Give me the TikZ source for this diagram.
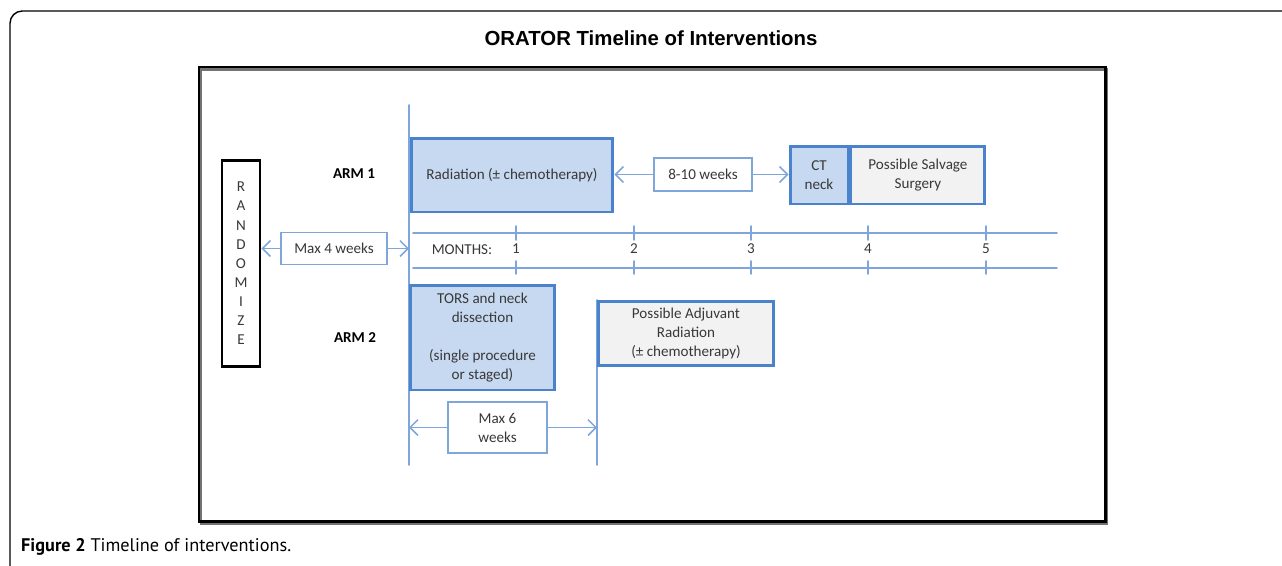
\documentclass[tikz,border=0pt]{standalone}
\usepackage{fontspec}
\setmainfont{Carlito}
\newfontfamily\titlefont{Liberation Sans}
\newfontfamily\capfont{PT Sans}
\usetikzlibrary{arrows.meta}

\definecolor{boxblue}{HTML}{4A82CC}
\definecolor{lineblue}{HTML}{7FA6DA}
\definecolor{fillblue}{HTML}{C6D9F1}
\definecolor{fillgray}{HTML}{F2F2F2}
\definecolor{txtgray}{HTML}{383838}

\tikzset{
  phase/.style={draw=boxblue,line width=1.7pt,fill=fillblue,align=center,
    inner sep=0pt,text=txtgray,font=\fontsize{8.6}{10.8}\selectfont},
  later/.style={phase,fill=fillgray},
  span/.style={draw=lineblue,line width=0.9pt,fill=white,align=center,
    inner sep=0pt,text=txtgray,font=\fontsize{8.6}{10.8}\selectfont},
  tl/.style={draw=lineblue,line width=0.9pt},
  gap/.style={tl,-{Straight Barb[length=4.5pt,width=9pt]}},
  arm/.style={font=\bfseries\fontsize{8.6}{10.8}\selectfont},
  mth/.style={text=txtgray,font=\fontsize{8.6}{10.8}\selectfont}
}

\begin{document}
\begin{tikzpicture}[x=0.02cm,y=-0.02cm,line cap=round]
        \useasboundingbox (0,0) rectangle (1282,565);

        % outer frame and title
        \draw[line width=0.8pt,rounded corners=7pt] (1283,11) -- (10,11) -- (10,566);
        \node[font=\titlefont\bfseries\fontsize{11.6}{14}\selectfont] (title) at (651,38) {ORATOR Timeline of Interventions};

        % black panel
        \draw[line width=1.7pt,black!55] (201,69.5) rectangle (1106.5,523);
        \draw[line width=1.7pt] (199,67) rectangle (1105,521);

        % vertical start lines
        \coordinate (lineA) at (409,105);
        \coordinate (lineB) at (597,300);
        \draw[tl] (lineA) -- (409,465);
        \draw[tl] (lineB) -- (597,465);

        % randomize box
        \node[draw,line width=1.7pt,inner sep=0pt,
              minimum width=0.76cm,minimum height=4.14cm,align=center,text=txtgray,
              font=\fontsize{8.6}{10.9}\selectfont] (rand) at (241,263.5)
              {R\\A\\N\\D\\O\\M\\I\\Z\\E};

        % arm labels
        \node[arm] (arm1) at (354,174) {ARM 1};
        \node[arm] (arm2) at (355,338) {ARM 2};

        % arm 1
        \node[phase,minimum width=4.04cm,minimum height=1.48cm] (rad) at (512,175) {Radiation (\textpm{} chemotherapy)};
        \node[span,minimum width=1.96cm,minimum height=0.66cm] (wk) at (703,174.5) {8-10 weeks};
        \node[phase,minimum width=1.16cm,minimum height=1.16cm] (ct) at (819,175) {CT\\neck};
        \node[later,minimum width=2.68cm,minimum height=1.16cm,anchor=west] (salv) at (ct.east) {Possible Salvage\\Surgery};
        \draw[gap] (wk.west) -- (wk.west -| rad.east);
        \draw[gap] (wk.east) -- (wk.east -| ct.west);

        % month axis
        \draw[tl] (413,233) -- (1057,233);
        \draw[tl] (413,268) -- (1057,268);
        \node[mth] (months) at (462,250) {MONTHS:};
        \foreach \x/\m in {516/1,634/2,751/3,868/4,986/5} {
                \draw[tl] (\x,226) -- (\x,240);
                \draw[tl] (\x,261) -- (\x,274);
                \node[mth] (m\m) at (\x,249) {\m};
        }

        % randomize to start
        \node[span,minimum width=2.12cm,minimum height=0.64cm] (mx4) at (334,248.5) {Max 4 weeks};
        \draw[gap] (mx4.west) -- (mx4.west -| rand.east);
        \draw[gap] (mx4.east) -- (mx4.east -| lineA);

        % arm 2
        \node[phase,minimum width=2.9cm,minimum height=2.1cm] (tors) at (482.5,337.5)
              {TORS and neck\\dissection\\[10.8pt](single procedure\\or staged)};
        \node[later,minimum width=3.5cm,minimum height=1.28cm,anchor=north west] (adj) at (lineB)
              {Possible Adjuvant\\Radiation\\(\textpm{} chemotherapy)};
        \node[span,minimum width=1.98cm,minimum height=1.02cm] (mx6) at (497.5,427.5) {Max 6\\weeks};
        \draw[gap] (mx6.west) -- (mx6.west -| lineA);
        \draw[gap] (mx6.east) -- (mx6.east -| lineB);

        % caption
        \node[anchor=west,font=\capfont\fontsize{10.4}{12}\selectfont] (cap) at (15,547)
              {\textbf{Figure 2} Timeline of interventions.};
\end{tikzpicture}
\end{document}
